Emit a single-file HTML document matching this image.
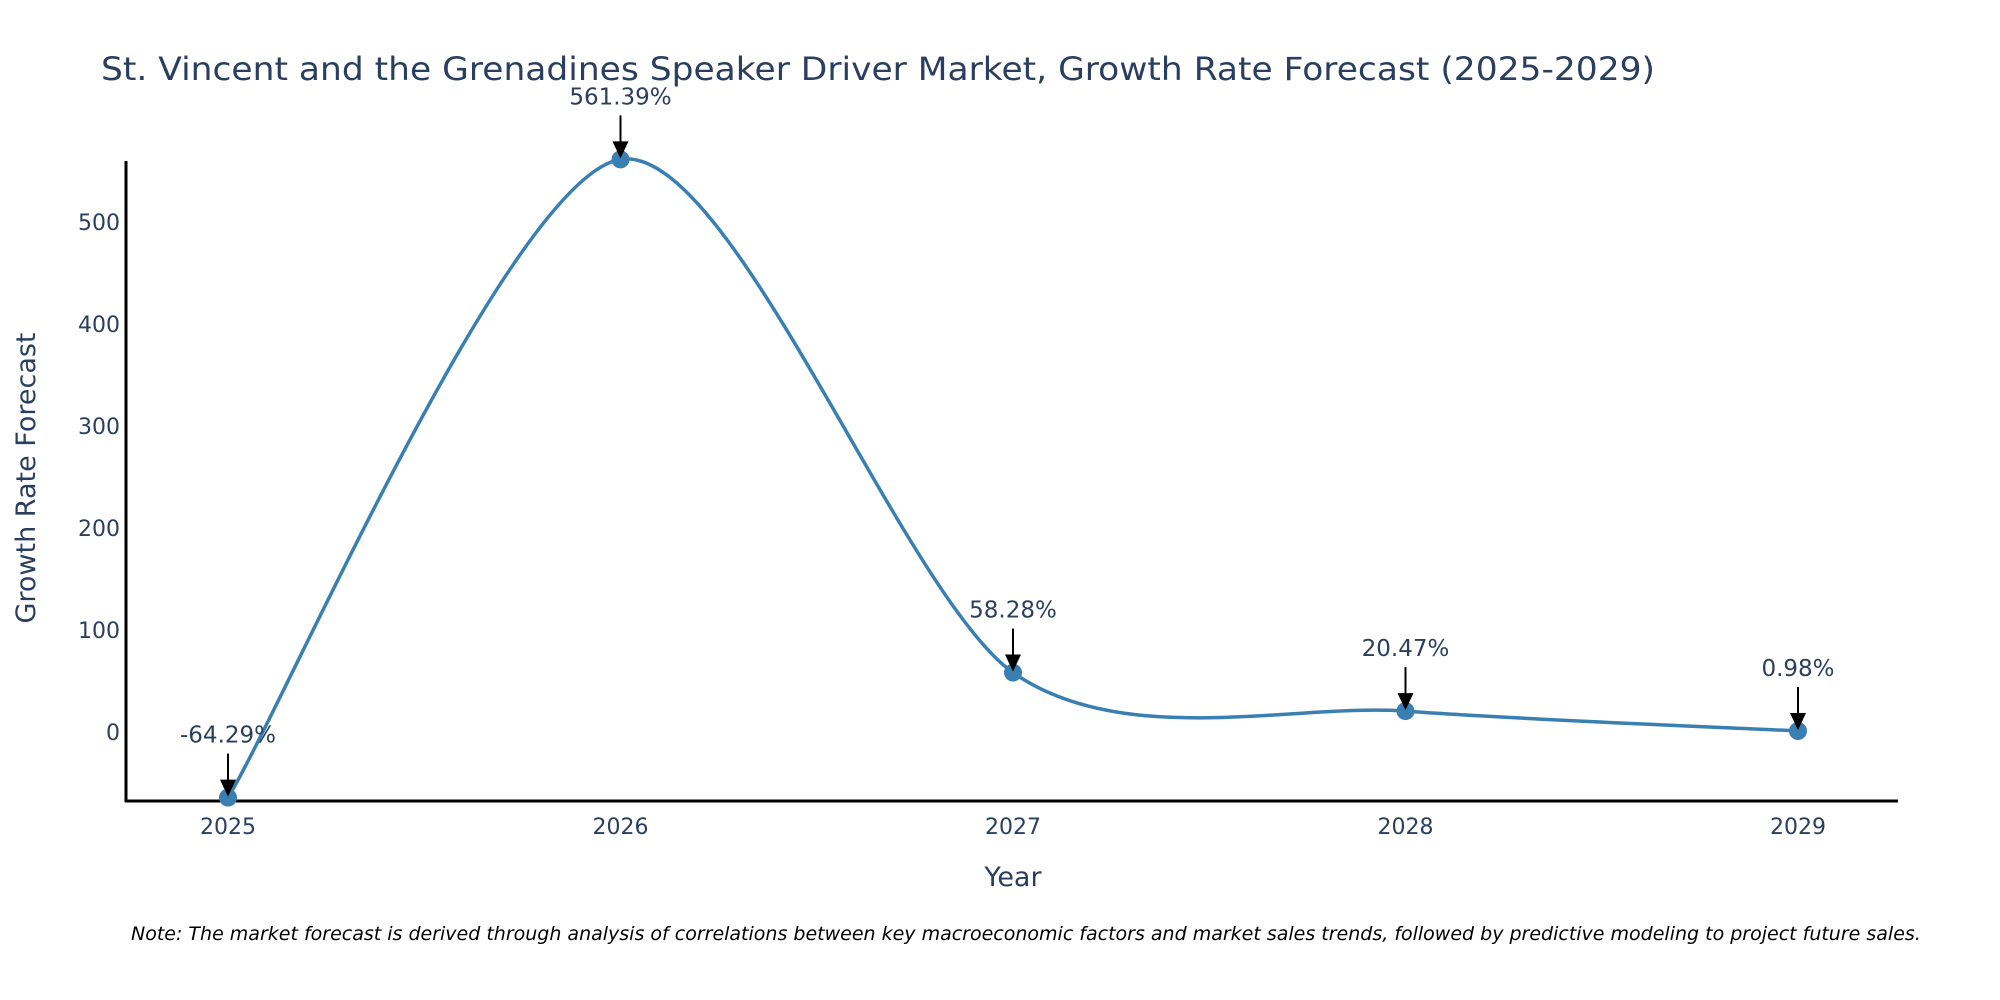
<!DOCTYPE html>
<html><head><meta charset="utf-8"><style>
html,body{margin:0;padding:0;background:#fff;width:2000px;height:1000px;overflow:hidden}
text{font-family:"DejaVu Sans","Liberation Sans",sans-serif}
</style></head><body>
<svg id="chart" width="2000" height="1000" xmlns="http://www.w3.org/2000/svg">
<rect width="2000" height="1000" fill="#fff"/>
<text x="101" y="80" font-size="32" fill="#2a3f5f" textLength="1554" lengthAdjust="spacingAndGlyphs">St. Vincent and the Grenadines Speaker Driver Market, Growth Rate Forecast (2025-2029)</text>
<g id="yticks"></g><g id="xticks"></g>
<line x1="126" y1="161" x2="126" y2="802" stroke="#000" stroke-width="3"/>
<line x1="125" y1="801" x2="1898" y2="801" stroke="#000" stroke-width="3"/>
<text transform="translate(35,478) rotate(-90)" text-anchor="middle" font-size="27" fill="#2a3f5f">Growth Rate Forecast</text>
<text x="1013" y="886" text-anchor="middle" font-size="27" fill="#2a3f5f">Year</text>
<g id="series"></g>
<g id="annotations"></g>
<text x="131" y="940" font-size="19" font-style="italic" fill="#000">Note: The market forecast is derived through analysis of correlations between key macroeconomic factors and market sales trends, followed by predictive modeling to project future sales.</text>
</svg>
<script>
const years = [2025, 2026, 2027, 2028, 2029];
const growth = [-64.29, 561.39, 58.28, 20.47, 0.98];
const labels = ["-64.29%", "561.39%", "58.28%", "20.47%", "0.98%"];
const yTicks = [0, 100, 200, 300, 400, 500];

const NS = "http://www.w3.org/2000/svg";
const xScale = y => 228 + (y - 2025) * 392.5;
const yScale = v => 732 - v * 1.02;
function mk(tag, attrs, parent){const e=document.createElementNS(NS,tag);for(const k in attrs)e.setAttribute(k,attrs[k]);parent.appendChild(e);return e;}

const yt = document.getElementById('yticks');
yTicks.forEach(t=>{
  const e = mk('text',{x:120,y:yScale(t)+8,'text-anchor':'end','font-size':22,fill:'#2a3f5f'},yt);
  
  
  e.textContent = t;
});
const xt = document.getElementById('xticks');
years.forEach(y=>{
  const e = mk('text',{x:xScale(y),y:834,'text-anchor':'middle','font-size':22,fill:'#2a3f5f'},xt);
  
  
  e.textContent = y;
});

const pts = years.map((y,i)=>[xScale(y), yScale(growth[i])]);
let d = `M${pts[0][0]},${pts[0][1]}`;
const tension = 0.42;
for(let i=0;i<pts.length-1;i++){
  const p0=pts[Math.max(i-1,0)],p1=pts[i],p2=pts[i+1],p3=pts[Math.min(i+2,pts.length-1)];
  const c1=[p1[0]+(p2[0]-p0[0])*tension/3, p1[1]+(p2[1]-p0[1])*tension/3];
  const c2=[p2[0]-(p3[0]-p1[0])*tension/3, p2[1]-(p3[1]-p1[1])*tension/3];
  d+=` C${c1[0]},${c1[1]} ${c2[0]},${c2[1]} ${p2[0]},${p2[1]}`;
}
const s = document.getElementById('series');
const line = mk('path',{d:d,fill:'none',stroke:'#3a7fb1','stroke-width':3.5},s);


pts.forEach(p=>{
  const c = mk('circle',{cx:p[0],cy:p[1],r:9,fill:'#3a7fb1'},s);
  
  
});

const an = document.getElementById('annotations');
pts.forEach((p,i)=>{
  const g = mk('g',{},an);
  
  
  mk('line',{x1:p[0],y1:p[1]-44,x2:p[0],y2:p[1]-14,stroke:'#000','stroke-width':2},g);
  mk('path',{d:`M${p[0]-8},${p[1]-18} L${p[0]+8},${p[1]-18} L${p[0]},${p[1]-1} Z`,fill:'#000'},g);
  const t = mk('text',{x:p[0],y:p[1]-55,'text-anchor':'middle','font-size':23,fill:'#2a3f5f'},g);
  t.textContent = labels[i];
});
</script>
</body></html>
